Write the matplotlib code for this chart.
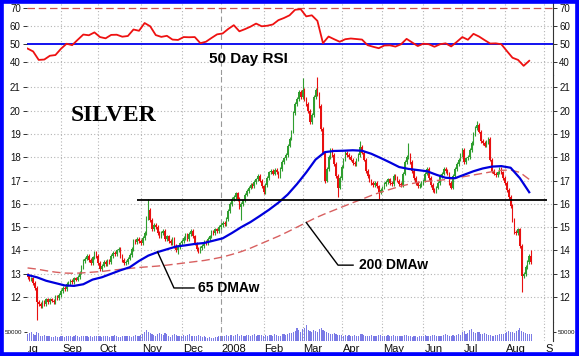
import numpy as np
import pandas as pd
import matplotlib
matplotlib.use('Agg')
import matplotlib.pyplot as plt
import matplotlib.transforms as mtrans
from matplotlib.patches import Rectangle

plt.rcParams['font.family'] = ['Liberation Sans', 'DejaVu Sans']

# daily closes, one list per month (Aug 8 2007 .. Aug 21 2008)
closeAug07 = [12.85, 12.75, 12.8, 12.6, 12.4, 11.8, 11.7, 11.6, 11.8, 11.7, 11.9, 11.8, 11.9, 11.85, 11.8, 12.0, 11.95, 12.1]
closeSep07 = [12.25, 12.4, 12.35, 12.55, 12.6, 12.7, 12.65, 12.8, 12.75, 12.85, 13.05, 13.3, 13.55, 13.65, 13.75, 13.6, 13.45, 13.7, 13.9, 13.75]
closeOct07 = [13.45, 13.2, 13.35, 13.5, 13.4, 13.55, 13.5, 13.75, 13.9, 13.85, 14.0, 14.05, 13.75, 13.6, 13.45, 13.5, 13.65, 13.8, 14.05, 14.4, 14.35, 14.5, 14.4]
closeNov07 = [14.3, 14.55, 14.75, 15.4, 15.75, 15.3, 14.9, 15.1, 15.0, 14.75, 14.6, 14.75, 14.85, 14.5, 14.6, 14.4, 14.3, 14.5, 14.2, 14.0, 14.15, 14.3]
closeDec07 = [14.4, 14.55, 14.65, 14.5, 14.7, 14.85, 14.6, 14.3, 14.05, 13.95, 14.1, 14.2, 14.35, 14.3, 14.5, 14.6, 14.8, 14.75, 14.9, 14.85, 15.0]
closeJan08 = [15.1, 15.2, 15.15, 15.35, 15.7, 16.0, 16.2, 16.3, 16.45, 16.2, 15.85, 16.0, 16.15, 16.4, 16.55, 16.7, 16.8, 16.75, 16.95, 17.05, 17.2, 17.0, 16.75]
closeFeb08 = [16.5, 16.8, 17.1, 17.35, 17.4, 17.3, 17.45, 17.35, 17.2, 17.5, 17.8, 17.95, 18.1, 18.5, 18.8, 19.1, 19.9, 20.3, 20.5, 20.8, 20.6]
closeMar08 = [20.9, 20.5, 20.3, 20.0, 19.5, 19.8, 20.6, 20.9, 20.7, 20.2, 19.2, 18.2, 17.0, 17.5, 18.0, 18.3, 18.1, 17.7, 17.2, 16.7, 17.1]
closeApr08 = [17.6, 17.9, 18.2, 18.1, 18.0, 17.9, 17.75, 17.7, 17.9, 18.1, 18.45, 18.2, 17.9, 17.4, 17.2, 17.0, 16.9, 16.8, 16.9, 16.75, 16.5, 16.6]
closeMay08 = [16.7, 16.85, 16.95, 17.05, 16.9, 16.85, 17.2, 17.1, 17.0, 16.85, 16.8, 17.3, 17.8, 18.0, 18.1, 17.8, 17.4, 17.1, 16.9, 16.75, 16.8, 16.9]
closeJun08 = [17.0, 17.3, 17.5, 17.1, 16.8, 16.6, 16.55, 16.7, 16.9, 17.2, 17.3, 17.5, 17.4, 17.3, 16.9, 16.7, 17.2, 17.5, 17.7, 17.9, 18.1]
closeJul08 = [18.3, 17.8, 17.95, 18.0, 18.3, 18.6, 19.0, 19.25, 19.4, 19.1, 18.7, 18.6, 18.5, 18.65, 18.8, 17.9, 17.4, 17.3, 17.25, 17.35, 17.5, 17.35, 17.1]
closeAug08 = [16.9, 16.6, 16.3, 15.9, 15.3, 14.8, 14.75, 14.9, 14.2, 12.9, 13.0, 13.3, 13.5, 13.75, 13.5]
firstOpen = 12.95

# notable intraday extremes (bar number -> price)
wickHighs = {65: 16.2, 148: 21.4, 156: 21.45, 179: 18.7, 205: 18.6, 242: 19.55, 271: 14.0}
wickLows = {5: 11.0, 81: 13.85, 115: 15.3, 160: 16.9, 167: 16.3, 189: 16.2, 266: 12.2}

# daily volume, thousands
volAug07 = [38, 45, 52, 40, 35, 48, 42, 30, 28, 33, 30, 25, 27, 22, 24, 26, 20, 23]
volSep07 = [25, 28, 22, 26, 30, 27, 24, 29, 31, 26, 23, 25, 28, 30, 27, 24, 26, 22, 25, 28]
volOct07 = [26, 30, 24, 27, 29, 25, 23, 28, 26, 31, 27, 24, 22, 25, 29, 27, 30, 26, 24, 28, 32, 30, 27]
volNov07 = [35, 40, 48, 60, 52, 45, 38, 34, 30, 36, 42, 38, 33, 45, 40, 30, 20, 35, 38, 32, 28, 30]
volDec07 = [30, 34, 28, 32, 36, 30, 27, 25, 29, 31, 27, 24, 26, 20, 18, 22, 19, 15, 21, 24, 26]
volJan08 = [28, 30, 27, 32, 29, 35, 31, 28, 34, 37, 30, 33, 29, 27, 31, 35, 30, 33, 36, 29, 32, 34, 31]
volFeb08 = [30, 33, 29, 35, 31, 27, 38, 34, 30, 28, 36, 40, 33, 38, 45, 42, 50, 58, 70, 60, 52]
volMar08 = [64, 72, 88, 60, 55, 48, 62, 58, 50, 65, 70, 62, 55, 48, 45, 40, 38, 44, 36, 33, 35]
volApr08 = [32, 30, 34, 28, 31, 29, 27, 33, 30, 28, 36, 40, 35, 30, 27, 29, 32, 28, 26, 30, 33, 31]
volMay08 = [29, 27, 30, 33, 28, 26, 31, 29, 27, 25, 30, 28, 35, 32, 30, 27, 24, 28, 26, 23, 25, 27]
volJun08 = [28, 32, 30, 26, 29, 35, 31, 27, 25, 30, 28, 33, 36, 31, 29, 27, 32, 30, 34, 37, 33]
volJul08 = [48, 55, 40, 45, 60, 68, 50, 44, 52, 47, 40, 36, 42, 38, 35, 33, 30, 28, 34, 31, 38, 36, 40]
volAug08 = [42, 48, 55, 50, 52, 45, 58, 62, 70, 55, 48, 44, 40, 38, 36]

# weighted moving averages, read every 5 bars
maStep = 5
ma65 = [12.95, 12.85, 12.7, 12.6, 12.5, 12.48, 12.55, 12.75, 12.85, 13.0,
        13.15, 13.28, 13.55, 13.78, 13.93, 14.05, 14.17, 14.22, 14.28, 14.32,
        14.42, 14.52, 14.75, 15.0, 15.22, 15.48, 15.75, 16.05, 16.4, 16.85,
        17.35, 17.9, 18.22, 18.27, 18.28, 18.3, 18.28, 18.15, 17.97, 17.78,
        17.58, 17.5, 17.45, 17.4, 17.25, 17.12, 17.1, 17.25, 17.4, 17.52,
        17.6, 17.62, 17.55, 17.1, 16.5]
ma200 = [13.25, 13.2, 13.13, 13.07, 13.03, 13.02, 13.04, 13.07, 13.1, 13.15,
         13.19, 13.23, 13.27, 13.3, 13.33, 13.37, 13.42, 13.47, 13.52, 13.57,
         13.64, 13.72, 13.83, 13.95, 14.1, 14.27, 14.44, 14.61, 14.8, 15.0,
         15.2, 15.4, 15.57, 15.73, 15.89, 16.05, 16.2, 16.36, 16.5, 16.62,
         16.74, 16.84, 16.92, 16.97, 17.0, 17.04, 17.1, 17.17, 17.24, 17.31,
         17.38, 17.44, 17.45, 17.35, 17.05]

# 50 day RSI, read every 3 bars
rsiStep = 3
rsi = [47.6, 46.0, 41.3, 41.5, 43.6, 44.0, 47.5, 50.3, 49.5, 52.5,
       55.4, 55.0, 56.6, 54.0, 53.3, 55.2, 55.3, 54.2, 54.6, 58.2,
       57.5, 61.8, 60.0, 55.1, 54.1, 54.7, 52.6, 52.4, 54.0, 53.9,
       54.0, 50.6, 51.4, 53.5, 55.5, 56.0, 58.5, 60.6, 57.2, 58.4,
       59.8, 61.5, 60.0, 60.3, 61.0, 63.4, 64.6, 66.1, 69.2, 69.5,
       65.5, 66.1, 63.0, 50.6, 54.3, 52.8, 51.4, 52.8, 53.2, 52.9,
       52.6, 49.5, 48.6, 47.8, 49.3, 49.4, 48.7, 50.0, 53.0, 51.0,
       49.0, 50.3, 50.0, 48.6, 50.0, 50.5, 48.8, 51.3, 54.0, 52.5,
       55.8, 54.3, 52.3, 50.4, 50.5, 50.0, 46.2, 42.5, 41.3, 38.0, 40.8]

resistance = 16.15
resistanceFrom = 59
startDate = '2007-08-08'

close = np.array(closeAug07 + closeSep07 + closeOct07 + closeNov07 + closeDec07 + closeJan08 +
                 closeFeb08 + closeMar08 + closeApr08 + closeMay08 + closeJun08 + closeJul08 + closeAug08)
volume = np.array(volAug07 + volSep07 + volOct07 + volNov07 + volDec07 + volJan08 +
                  volFeb08 + volMar08 + volApr08 + volMay08 + volJun08 + volJul08 + volAug08) * 1000
bars = np.arange(len(close))
opens = np.concatenate([[firstOpen], close[:-1]])
bodyLo = np.minimum(opens, close)
bodyHi = np.maximum(opens, close)
wickPad = 0.08
hi = bodyHi + wickPad
lo = bodyLo - wickPad
for k, v in wickHighs.items():
    hi[k] = v
for k, v in wickLows.items():
    lo[k] = v
GREEN = '#2f9e2f'
RED = '#e81010'
colors = np.where(close >= opens, GREEN, RED)

monthStarts = pd.date_range('2007-08-01', '2008-09-01', freq='MS')
monthPos = np.busday_count(np.datetime64(startDate), monthStarts.values.astype('datetime64[D]'))
monthLabels = [str(d.year) if d.month == 1 else d.strftime('%b') for d in monthStarts]

W, H = 579, 356
fig = plt.figure(figsize=(W / 100, H / 100), dpi=100)
L, R = 27 / W, 553 / W
def fy(px):
    return 1 - px / H

axR = fig.add_axes([L, fy(75), R - L, (75 - 2) / H])
axP = fig.add_axes([L, fy(322), R - L, (322 - 75) / H], sharex=axR)
axV = fig.add_axes([L, fy(341), R - L, (341 - 322) / H], sharex=axR)

GRID = '#b4b4b4'
for ax in (axR, axP, axV):
    for p, d in zip(monthPos, monthStarts):
        if d.month == 1:
            ax.axvline(p, color='#999999', lw=0.8, ls=(0, (5, 3)), zorder=0)
        else:
            ax.axvline(p, color=GRID, lw=0.8, ls=(0, (1, 2)), zorder=0)
    for s in ('top', 'bottom', 'left'):
        ax.spines[s].set_visible(False)
    ax.spines['right'].set_color('#333333')
    ax.spines['right'].set_linewidth(0.8)
    ax.tick_params(axis='y', direction='out', length=3, width=0.6, left=True, right=True,
                   labelleft=True, labelright=True, labelsize=7, pad=1.5, colors='#111111')
    ax.tick_params(axis='x', bottom=False, labelbottom=False)

# RSI panel
axR.set_ylim(32.9, 73.5)
axR.set_yticks([40, 50, 60, 70])
for v in (40, 60):
    axR.axhline(v, color=GRID, lw=0.8, ls=(0, (1, 2)), zorder=0)
axR.axhline(70, color='#d05050', lw=0.9, ls=(0, (6, 3)), zorder=1)
axR.axhline(50, color='#0000ee', lw=1.3, zorder=1)
axR.plot(bars[::rsiStep][:len(rsi)], rsi, color='#ee1111', lw=1.3, zorder=3)
axR.text(97.5, 41.8, '50 Day RSI', fontsize=11, fontweight='bold', va='center', ha='left')

# price panel
axP.set_ylim(10.93, 21.53)
axP.set_yticks(range(12, 22))
for v in range(12, 22):
    axP.axhline(v, color=GRID, lw=0.8, ls=(0, (1, 2)), zorder=0)
axP.vlines(bars, lo, hi, colors=colors, lw=0.8, zorder=2)
axP.bar(bars, np.maximum(bodyHi - bodyLo, 0.03), bottom=bodyLo, width=0.8, color=colors, zorder=2)
maBars = bars[::maStep]
axP.plot(maBars[:len(ma200)], ma200, color='#d86060', lw=1.0, ls=(0, (6, 3)), zorder=3)
axP.plot(maBars[:len(ma65)], ma65, color='#0000dd', lw=1.6, zorder=4)
axP.hlines(resistance, resistanceFrom, 279.5, color='black', lw=1.3, zorder=5)
axP.text(23.4, 19.81, 'SILVER', family='Liberation Serif', fontsize=17, fontweight='bold',
         va='center', ha='left')

# leader lines to the moving averages
a65 = (maBars[14], ma65[14])
axP.plot([a65[0], 78.8, 89.6], [a65[1], 12.39, 12.39], color='black', lw=1.0, zorder=5)
axP.text(91.7, 12.39, '65 DMAw', fontsize=10, fontweight='bold', va='center', ha='left')
a200 = (maBars[30], ma200[30])
axP.plot([a200[0], 167.1, 175.2], [a200[1], 13.37, 13.37], color='black', lw=1.0, zorder=5)
axP.text(178.4, 13.37, '200 DMAw', fontsize=10, fontweight='bold', va='center', ha='left')

# volume panel
axV.set_ylim(0, 105000)
axV.set_yticks([50000])
axV.tick_params(axis='y', labelsize=4.5, length=2)
axV.bar(bars, volume, width=0.6, color='#7b7be6', zorder=2)

axR.set_xlim(-0.3, 282.8)

# month labels below the volume strip
trans = mtrans.offset_copy(mtrans.blended_transform_factory(axV.transData, fig.transFigure),
                           fig=fig, x=1, y=0, units='dots')
clip = mtrans.TransformedBbox(mtrans.Bbox.from_extents(L + 1 / W, 0, R, 1), fig.transFigure)
for p, lab in zip(monthPos, monthLabels):
    t = fig.text(p, fy(349), lab, transform=trans, fontsize=8, ha='left', va='center', color='#111111')
    t.set_clip_box(clip)
    t.set_clip_on(True)

fig.patches.append(Rectangle((0, 0), 1, 1, transform=fig.transFigure, fill=False,
                             edgecolor='#0000ff', lw=5.5, zorder=10))

fig.savefig('out.png', dpi=100)
